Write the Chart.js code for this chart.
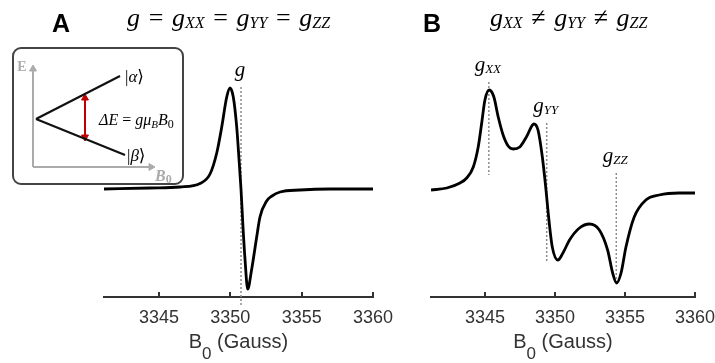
<!DOCTYPE html>
<html>
<head>
<meta charset="utf-8">
<script src="https://cdn.jsdelivr.net/npm/chart.js@4"></script>
<style>
  html, body { margin: 0; padding: 0; background: #fff; overflow: hidden; }
  #wrap { position: relative; width: 715px; height: 363px; overflow: hidden; }
  #wrap > canvas { position: absolute; top: 0; }
  #chartA { left: 0; }
  #chartB { left: 400px; }
  #inset { position: absolute; left: 12px; top: 47px; width: 172px; height: 138px; box-sizing: border-box;
           border: 2px solid #444; border-radius: 9px; background: #fff; overflow: hidden; }
  #inset canvas { position: absolute; left: 0; top: 0; }
</style>
</head>
<body>
<div id="wrap">
  <canvas id="chartA" width="405" height="363"></canvas>
  <canvas id="chartB" width="326" height="363"></canvas>
  <div id="inset"><canvas id="chartInset" width="168" height="134"></canvas></div>
</div>
<script>
// ---- data (field in Gauss, signal in arbitrary units) ----
const tickValues = [3345, 3350, 3355, 3360];
const fieldMin = 3341.15, fieldMax = 3360;

// panel A: isotropic g
const fieldA = [3341.15, 3344.37, 3346.47, 3347.88, 3348.58, 3349.05, 3349.40, 3349.75, 3349.98, 3350.21,
                3350.45, 3350.61, 3350.75, 3350.89, 3351.03, 3351.22, 3351.49, 3351.85, 3352.08, 3352.55,
                3352.92, 3353.49, 3354.89, 3356.99, 3360.00];
const signalA = [0.00, 0.01, 0.02, 0.055, 0.15, 0.36, 0.62, 0.92, 1.01, 0.92,
                 0.62, 0.30, 0.00, -0.38, -0.70, -1.00, -0.81, -0.48, -0.28, -0.12,
                 -0.07, -0.03, -0.01, 0.00, 0.00];
const markerFieldA = [3350.75];
const markerTopA = [1.02];
const markerBottomA = [-1.16];
const markerSubA = [''];

// panel B: rhombic g tensor
const fieldB = [3341.15, 3342.28, 3343.22, 3343.70, 3344.17, 3344.52, 3344.77, 3345.00, 3345.31, 3345.64,
                3345.95, 3346.30, 3346.66, 3347.01, 3347.49, 3347.96, 3348.50, 3348.79, 3349.10, 3349.34,
                3349.57, 3349.81, 3350.21, 3350.57, 3351.04, 3351.75, 3352.46, 3353.17, 3353.76, 3354.12,
                3354.40, 3354.72, 3355.07, 3355.66, 3356.49, 3357.44, 3358.86, 3360.00];
const signalB = [-0.01, 0.01, 0.06, 0.11, 0.22, 0.42, 0.66, 0.89, 0.99, 0.92,
                 0.72, 0.54, 0.43, 0.40, 0.42, 0.52, 0.65, 0.59, 0.32, 0.02,
                 -0.31, -0.58, -0.71, -0.64, -0.51, -0.39, -0.35, -0.41, -0.61, -0.84,
                 -0.94, -0.84, -0.58, -0.28, -0.11, -0.06, -0.04, -0.04];
const markerFieldB = [3345.28, 3349.41, 3354.38];
const markerTopB = [1.07, 0.66, 0.16];
const markerBottomB = [0.14, -0.73, -0.94];
const markerSubB = ['XX', 'YY', 'ZZ'];

// inset: Zeeman splitting sketch (B0 vs E)
const levelStart = { x: 0.03, y: 0.48 };
const alphaEnd = { x: 0.87, y: 0.91 };
const betaEnd = { x: 0.92, y: 0.12 };
const eAxisTop = 0.98, bAxisEnd = 1.18;
const arrowX = 0.52, arrowLow = 0.30, arrowHigh = 0.69;

// ---- text helpers ----
const MATH = '"Liberation Serif", "DejaVu Serif", serif';
const SANS = '"Liberation Sans", Arial, sans-serif';
const it = s => `italic ${s}px ${MATH}`;
const up = s => `${s}px ${MATH}`;

function drawRuns(ctx, runs, x, y, align) {
    let w = 0;
    runs.forEach(r => { ctx.font = r.font; r.w = ctx.measureText(r.text).width; w += r.w; });
    let cx = align === 'center' ? x - w / 2 : x;
    ctx.textAlign = 'left';
    ctx.textBaseline = 'alphabetic';
    runs.forEach(r => {
        ctx.font = r.font;
        ctx.fillStyle = r.color || '#000';
        ctx.fillText(r.text, cx, y + (r.dy || 0));
        cx += r.w;
    });
}

// 'g_XX' -> italic g with subscript, anything else -> operator with spacing
function mathRuns(parts, size) {
    const runs = [];
    parts.forEach(p => {
        if (p.startsWith('g')) {
            runs.push({ text: 'g', font: it(size) });
            const sub = p.split('_')[1];
            if (sub) runs.push({ text: sub, font: it(Math.round(size * 0.6)), dy: size * 0.09 });
        } else {
            runs.push({ text: '\u2004' + p + '\u2004', font: up(size) });
        }
    });
    return runs;
}

const panels = {
    chartA: { letter: 'A', letterX: 61, formula: ['g', '=', 'g_XX', '=', 'g_YY', '=', 'g_ZZ'], formulaX: 127,
              markField: markerFieldA, markTop: markerTopA, markSub: markerSubA },
    chartB: { letter: 'B', letterX: 32, formula: ['g_XX', '\u2260', 'g_YY', '\u2260', 'g_ZZ'], formulaX: 90,
              markField: markerFieldB, markTop: markerTopB, markSub: markerSubB }
};

// ---- plugin: tick marks, panel letter, formula, peak labels, axis title ----
const panelDecor = {
    id: 'panelDecor',
    afterDraw(chart) {
        const cfg = panels[chart.canvas.id];
        const ctx = chart.ctx, xs = chart.scales.x, ys = chart.scales.y, area = chart.chartArea;
        ctx.save();
        ctx.strokeStyle = '#333';
        ctx.lineWidth = 2;
        xs.ticks.forEach(t => {
            const px = Math.round(xs.getPixelForValue(t.value));
            ctx.beginPath();
            ctx.moveTo(px, area.bottom);
            ctx.lineTo(px, area.bottom - 5);
            ctx.stroke();
        });

        ctx.font = `bold 25px ${SANS}`;
        ctx.fillStyle = '#000';
        ctx.textAlign = 'center';
        ctx.textBaseline = 'alphabetic';
        ctx.fillText(cfg.letter, cfg.letterX, 32);

        drawRuns(ctx, mathRuns(cfg.formula, 26), cfg.formulaX, 26, 'left');

        cfg.markField.forEach((f, i) => {
            const px = xs.getPixelForValue(f);
            const py = ys.getPixelForValue(cfg.markTop[i]);
            const label = cfg.markSub[i] ? 'g_' + cfg.markSub[i] : 'g';
            drawRuns(ctx, mathRuns([label], 21), px - 1, py - 11, 'center');
        });

        const title = [
            { text: 'B', font: `20px ${SANS}`, color: '#333' },
            { text: '0', font: `17px ${SANS}`, color: '#333', dy: 11 },
            { text: ' (Gauss)', font: `20px ${SANS}`, color: '#333' }
        ];
        drawRuns(ctx, title, (area.left + area.right) / 2, 348, 'center');
        ctx.restore();
    }
};

function spectrumChart(id, field, signal, markField, markTop, markBottom, padLeft, padRight) {
    const datasets = [{
        data: field.map((x, i) => ({ x: x, y: signal[i] })),
        borderColor: '#000',
        borderWidth: 2.8,
        pointRadius: 0,
        cubicInterpolationMode: 'monotone',
        fill: false
    }];
    markField.forEach((x, i) => {
        datasets.push({
            data: [{ x: x, y: markTop[i] }, { x: x, y: markBottom[i] }],
            borderColor: '#8c8c8c',
            borderWidth: 1.5,
            borderDash: [2, 2],
            pointRadius: 0,
            tension: 0,
            clip: false
        });
    });
    return new Chart(document.getElementById(id), {
        type: 'line',
        data: { datasets: datasets },
        options: {
            responsive: false,
            animation: false,
            events: [],
            layout: { padding: { left: padLeft, right: padRight, top: 40, bottom: 0 }, autoPadding: false },
            plugins: { legend: { display: false }, tooltip: { enabled: false } },
            scales: {
                x: {
                    type: 'linear',
                    min: fieldMin,
                    max: fieldMax,
                    afterBuildTicks: s => { s.ticks = tickValues.map(v => ({ value: v })); },
                    afterFit: s => { s.height = 66; },
                    grid: { display: false, drawTicks: false },
                    border: { display: true, color: '#333', width: 2 },
                    ticks: {
                        font: { family: SANS, size: 18 }, color: '#333', padding: 10, maxRotation: 0,
                        callback: v => String(v)
                    }
                },
                y: { display: false, min: -1.08, max: 1.49 }
            }
        },
        plugins: [panelDecor]
    });
}

spectrumChart('chartA', fieldA, signalA, markerFieldA, markerTopA, markerBottomA, 104, 32);
spectrumChart('chartB', fieldB, signalB, markerFieldB, markerTopB, markerBottomB, 31, 31);

// ---- inset ----
const GREY = '#ababab';
const insetText = {
    id: 'insetText',
    afterDraw(chart) {
        const ctx = chart.ctx, xs = chart.scales.x, ys = chart.scales.y;
        const px = v => xs.getPixelForValue(v), py = v => ys.getPixelForValue(v);
        ctx.save();
        drawRuns(ctx, [{ text: '|', font: up(17) }, { text: '\u03b1', font: it(17) }, { text: '\u27e9', font: up(17) }],
                 px(alphaEnd.x) + 5, py(alphaEnd.y) + 6, 'left');
        drawRuns(ctx, [{ text: '|', font: up(17) }, { text: '\u03b2', font: it(17) }, { text: '\u27e9', font: up(17) }],
                 px(betaEnd.x) + 2, py(betaEnd.y) + 6, 'left');
        drawRuns(ctx, [
            { text: '\u0394E', font: it(16) },
            { text: ' = ', font: up(16) },
            { text: 'g\u03bc', font: it(16) },
            { text: 'B', font: it(11), dy: 3 },
            { text: 'B', font: it(16) },
            { text: '0', font: up(12), dy: 3 }
        ], px(arrowX) + 14, py((arrowLow + arrowHigh) / 2) + 7, 'left');
        drawRuns(ctx, [{ text: 'E', font: `bold 14px ${MATH}`, color: GREY }], px(0) - 11, py(eAxisTop) + 2, 'center');
        drawRuns(ctx, [
            { text: 'B', font: `bold italic 16px ${MATH}`, color: GREY },
            { text: '0', font: `bold 12px ${MATH}`, color: GREY, dy: 2 }
        ], px(bAxisEnd) + 4, py(0) + 14, 'left');
        ctx.restore();
    }
};

const line = (pts, color, width, extra) => Object.assign({
    data: pts, borderColor: color, borderWidth: width, pointRadius: 0, tension: 0, fill: false
}, extra || {});

new Chart(document.getElementById('chartInset'), {
    type: 'line',
    data: {
        datasets: [
            line([levelStart, alphaEnd], '#111', 2.2),
            line([levelStart, betaEnd], '#111', 2.2),
            line([{ x: arrowX, y: arrowLow }, { x: arrowX, y: arrowHigh }], '#c00000', 2, {
                pointStyle: 'triangle', pointRadius: 4, pointRotation: [180, 0],
                pointBackgroundColor: '#c00000', pointBorderColor: '#c00000', pointBorderWidth: 1
            }),
            line([{ x: 0, y: 0 }, { x: 0, y: eAxisTop }], GREY, 2, {
                pointStyle: 'triangle', pointRadius: [0, 4], pointRotation: 0,
                pointBackgroundColor: GREY, pointBorderColor: GREY, pointBorderWidth: 1
            }),
            line([{ x: 0, y: 0 }, { x: bAxisEnd, y: 0 }], GREY, 2, {
                pointStyle: 'triangle', pointRadius: [0, 4], pointRotation: 90,
                pointBackgroundColor: GREY, pointBorderColor: GREY, pointBorderWidth: 1
            })
        ]
    },
    options: {
        responsive: false,
        animation: false,
        events: [],
        layout: { padding: 0, autoPadding: false },
        plugins: { legend: { display: false }, tooltip: { enabled: false } },
        scales: {
            x: { type: 'linear', display: false, min: -0.19, max: 1.49 },
            y: { display: false, min: -0.16, max: 1.18 }
        }
    },
    plugins: [insetText]
});
</script>
</body>
</html>
